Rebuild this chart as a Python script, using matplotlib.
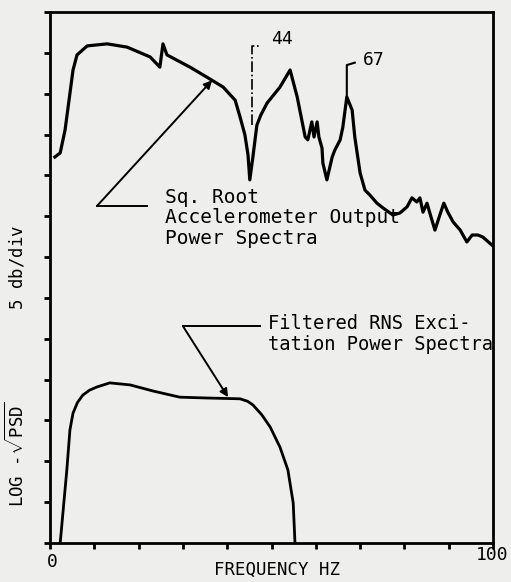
import matplotlib
matplotlib.use("Agg")
import matplotlib.pyplot as plt

# square-root accelerometer output power spectra (divisions above baseline)
top_freq = [1.1, 2.3, 3.4, 5.2, 6.1, 8.4, 12.9, 17.4, 22.6, 24.8, 25.5, 26.4,
            31.6, 36.1, 39.1, 41.8, 42.9, 44.0, 44.7, 45.1, 45.8, 46.7, 47.6,
            49.0, 51.9, 54.2, 55.8, 57.6, 58.2, 59.1, 59.6, 60.3, 60.7, 61.4,
            61.6, 62.5, 63.7, 64.3, 65.5, 66.1, 67.0, 68.2, 68.8, 70.0, 71.1,
            72.2, 73.8, 75.2, 77.4, 79.0, 80.6, 81.7, 82.8, 83.5, 84.2, 85.1,
            86.2, 86.9, 88.0, 88.9, 89.8, 91.0, 92.6, 94.1, 95.3, 96.6, 97.7,
            99.8]
top_level = [9.45, 9.55, 10.11, 11.58, 11.95, 12.17, 12.22, 12.14, 11.90,
             11.65, 12.22, 11.95, 11.65, 11.36, 11.16, 10.84, 10.43, 9.99,
             9.50, 8.89, 9.45, 10.23, 10.48, 10.77, 11.16, 11.58, 10.92, 9.94,
             9.87, 10.31, 9.94, 10.31, 9.94, 9.67, 9.30, 8.89, 9.45, 9.62,
             9.87, 10.18, 10.92, 10.60, 9.94, 9.06, 8.64, 8.52, 8.32, 8.20,
             8.03, 8.08, 8.23, 8.45, 8.35, 8.45, 8.10, 8.32, 7.91, 7.66, 8.03,
             8.32, 8.10, 7.86, 7.66, 7.37, 7.54, 7.54, 7.49, 7.29]

# filtered RNS excitation power spectra
exc_freq = [2.3, 3.8, 4.5, 5.2, 6.2, 7.4, 8.9, 10.6, 13.5, 18.1, 23.3, 29.3,
            35.4, 42.9, 44.6, 45.8, 47.8, 49.7, 51.9, 53.7, 54.9, 55.3]
exc_level = [0.0, 1.79, 2.77, 3.18, 3.44, 3.62, 3.74, 3.82, 3.92, 3.87, 3.72,
             3.57, 3.55, 3.53, 3.47, 3.38, 3.14, 2.84, 2.35, 1.79, 0.98, 0.0]

peak_freq = [45.6, 67.0]
peak_label = ["44", "67"]

bg = "#eeeeec"
mono = "DejaVu Sans Mono"
plt.rcParams["font.family"] = [mono]
plt.rcParams["mathtext.fontset"] = "custom"
plt.rcParams["mathtext.rm"] = mono
plt.rcParams["mathtext.it"] = mono

fig = plt.figure(figsize=(5.11, 5.82), dpi=100, facecolor=bg)
ax = fig.add_axes([50 / 511, 39 / 582, 443 / 511, 531 / 582], facecolor=bg)

ax.plot(top_freq, top_level, color="black", lw=2.3, solid_joinstyle="round")
ax.plot(exc_freq, exc_level, color="black", lw=2.0, solid_joinstyle="round")

ax.set_xlim(0, 100)
ax.set_ylim(0, 13)
ax.set_xticks(range(0, 101, 10))
ax.set_yticks(range(0, 14))
ax.tick_params(direction="out", length=4, width=2,
               labelleft=False, labelbottom=False)
for s in ax.spines.values():
    s.set_linewidth(2)

# peak markers
ax.plot([peak_freq[0], peak_freq[0], 47.4], [10.23, 12.17, 12.17],
        color="black", lw=1.2, ls="-.")
ax.text(52.4, 12.34, peak_label[0], fontsize=13, ha="center", va="center")
ax.plot([peak_freq[1], peak_freq[1], 68.8], [10.92, 11.70, 11.76],
        color="black", lw=1.5)
ax.text(73.1, 11.82, peak_label[1], fontsize=13, ha="center", va="center")

# callouts
arrow = dict(arrowstyle="-|>", color="black", lw=1.4, mutation_scale=12,
             shrinkA=0, shrinkB=0)
ax.plot([10.6, 21.9], [8.25, 8.25], color="black", lw=1.4)
ax.annotate("", xy=(36.6, 11.33), xytext=(10.6, 8.25), arrowprops=arrow)
ax.text(26.0, 7.96, "Sq. Root\nAccelerometer Output\nPower Spectra",
        fontsize=14, ha="left", va="center", linespacing=1.1)

ax.plot([30.0, 47.4], [5.31, 5.31], color="black", lw=1.4)
ax.annotate("", xy=(40.2, 3.57), xytext=(30.0, 5.31), arrowprops=arrow)
ax.text(49.2, 5.12, "Filtered RNS Exci-\ntation Power Spectra",
        fontsize=13.5, ha="left", va="center", linespacing=1.1)

# axis text
fig.text(52 / 511, 1 - 562 / 582, "0", fontsize=13, ha="center", va="center")
fig.text(492 / 511, 1 - 555 / 582, "100", fontsize=13, ha="center", va="center")
fig.text(277 / 511, 1 - 570 / 582, "FREQUENCY HZ", fontsize=12.5,
         ha="center", va="center")
fig.text(15 / 511, 1 - 366 / 582, r"LOG -$\sqrt{\rm PSD}$         5 db/div",
         fontsize=12.5, rotation=90, ha="center", va="center")

fig.savefig("out.png", dpi=100, facecolor=bg)
